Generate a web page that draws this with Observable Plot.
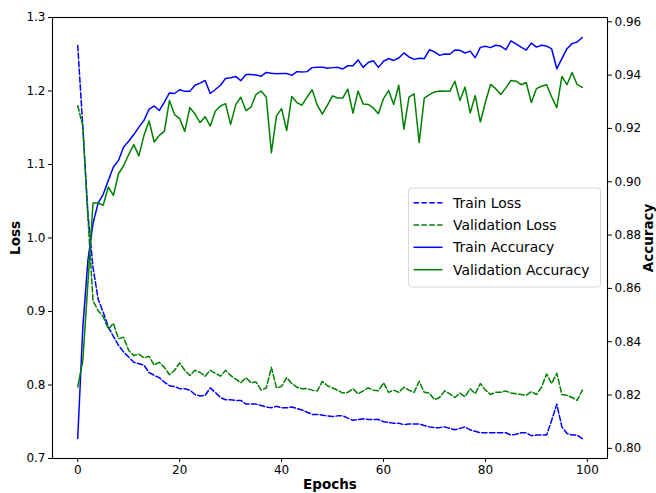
<!DOCTYPE html>
<html><head><meta charset="utf-8">
<script src="https://cdn.jsdelivr.net/npm/d3@7"></script>
<script src="https://cdn.jsdelivr.net/npm/@observablehq/plot@0.6"></script>
<style>
body{margin:0;background:#fff;}
#chart svg{font-family:"DejaVu Sans",sans-serif;}
</style>
</head><body><div id="chart"></div>
<script>
// ---- data ----
const trainLoss = [1.262,1.151,1.033,0.960,0.917,0.899,0.879,0.866,0.854,0.845,
0.838,0.831,0.829,0.827,0.817,0.813,0.810,0.804,0.799,0.798,
0.795,0.795,0.793,0.787,0.785,0.786,0.796,0.790,0.783,0.780,
0.780,0.779,0.779,0.774,0.774,0.774,0.772,0.770,0.769,0.771,
0.769,0.769,0.770,0.768,0.766,0.763,0.760,0.760,0.759,0.758,
0.757,0.758,0.758,0.755,0.752,0.753,0.754,0.753,0.753,0.753,
0.750,0.749,0.748,0.748,0.746,0.747,0.747,0.747,0.745,0.743,
0.742,0.742,0.743,0.741,0.739,0.741,0.743,0.739,0.737,0.735,
0.735,0.735,0.735,0.735,0.735,0.732,0.733,0.735,0.735,0.731,
0.732,0.732,0.732,0.752,0.774,0.743,0.734,0.732,0.732,0.727];
const valLoss = [1.180,1.152,1.028,0.915,0.901,0.893,0.876,0.884,0.863,0.865,
0.847,0.840,0.842,0.837,0.839,0.827,0.831,0.824,0.814,0.820,
0.830,0.820,0.813,0.820,0.817,0.812,0.820,0.816,0.812,0.820,
0.813,0.808,0.803,0.810,0.803,0.804,0.793,0.796,0.824,0.796,
0.798,0.810,0.802,0.797,0.795,0.795,0.793,0.792,0.805,0.799,
0.796,0.793,0.789,0.790,0.795,0.788,0.792,0.796,0.793,0.792,
0.803,0.790,0.793,0.790,0.797,0.793,0.790,0.805,0.790,0.789,
0.780,0.783,0.792,0.788,0.783,0.789,0.784,0.795,0.788,0.802,
0.793,0.787,0.790,0.790,0.792,0.789,0.788,0.787,0.786,0.791,
0.787,0.797,0.815,0.802,0.816,0.787,0.786,0.783,0.779,0.793];
const trainAcc = [0.8037,0.8454,0.8705,0.8844,0.8920,0.8953,0.9005,0.9055,0.9080,0.9130,
0.9152,0.9177,0.9205,0.9230,0.9272,0.9284,0.9267,0.9299,0.9333,0.9331,
0.9345,0.9339,0.9339,0.9362,0.9370,0.9380,0.9331,0.9346,0.9362,0.9387,
0.9390,0.9395,0.9379,0.9402,0.9402,0.9400,0.9396,0.9410,0.9407,0.9405,
0.9406,0.9406,0.9399,0.9413,0.9412,0.9413,0.9428,0.9429,0.9429,0.9426,
0.9428,0.9429,0.9423,0.9435,0.9435,0.9457,0.9429,0.9447,0.9454,0.9429,
0.9452,0.9462,0.9455,0.9464,0.9483,0.9468,0.9459,0.9463,0.9462,0.9495,
0.9487,0.9474,0.9479,0.9478,0.9494,0.9493,0.9483,0.9490,0.9465,0.9504,
0.9508,0.9503,0.9512,0.9509,0.9495,0.9528,0.9517,0.9505,0.9494,0.9520,
0.9505,0.9512,0.9509,0.9498,0.9424,0.9462,0.9499,0.9518,0.9524,0.9541];
const valAcc = [0.8230,0.8330,0.8620,0.8920,0.8920,0.8912,0.8980,0.8949,0.9030,0.9060,
0.9102,0.9139,0.9097,0.9174,0.9228,0.9149,0.9174,0.9189,0.9305,0.9252,
0.9237,0.9189,0.9278,0.9255,0.9222,0.9244,0.9209,0.9264,0.9284,0.9293,
0.9215,0.9289,0.9317,0.9267,0.9280,0.9328,0.9340,0.9317,0.9109,0.9247,
0.9274,0.9192,0.9320,0.9297,0.9287,0.9317,0.9345,0.9287,0.9254,0.9287,
0.9322,0.9314,0.9314,0.9347,0.9257,0.9340,0.9292,0.9290,0.9277,0.9255,
0.9312,0.9342,0.9290,0.9362,0.9197,0.9317,0.9330,0.9147,0.9314,0.9327,
0.9337,0.9340,0.9339,0.9339,0.9377,0.9305,0.9355,0.9258,0.9323,0.9224,
0.9299,0.9365,0.9349,0.9327,0.9352,0.9380,0.9377,0.9364,0.9372,0.9297,
0.9349,0.9358,0.9364,0.9318,0.9278,0.9395,0.9364,0.9410,0.9364,0.9354];
const epochTicks = [0,20,40,60,80,100];
const lossTicks = [0.7,0.8,0.9,1.0,1.1,1.2,1.3];
const accTicks = [0.80,0.82,0.84,0.86,0.88,0.90,0.92,0.94,0.96];
const seriesNames = ["Train Loss","Validation Loss","Train Accuracy","Validation Accuracy"];
const seriesColors = ["blue","green","blue","green"];

// ---- dual axis mapping: accuracy domain mapped onto loss domain ----
const lossDomain = [0.7, 1.3];
const accDomain = [0.7962, 0.9616];
const toLoss = d3.scaleLinear().domain(accDomain).range(lossDomain);

const rows = (arr, key, isAcc) => arr.map((v, i) => ({epoch: i, v: isAcc ? toLoss(v) : v, key}));
const dash = "5.5,2.4";
const fs = 12;

const chart = Plot.plot({
  width: 656, height: 493,
  marginLeft: 52, marginRight: 49, marginTop: 17, marginBottom: 35,
  style: {fontFamily: "DejaVu Sans, sans-serif", background: "white", color: "black"},
  x: {domain: [-4.95, 103.95]},
  y: {domain: lossDomain},
  marks: [
    Plot.line(rows(trainLoss, seriesNames[0], false), {x: "epoch", y: "v", stroke: seriesColors[0], strokeWidth: 1.5, strokeDasharray: dash}),
    Plot.line(rows(valLoss, seriesNames[1], false), {x: "epoch", y: "v", stroke: seriesColors[1], strokeWidth: 1.5, strokeDasharray: dash}),
    Plot.line(rows(trainAcc, seriesNames[2], true), {x: "epoch", y: "v", stroke: seriesColors[2], strokeWidth: 1.5}),
    Plot.line(rows(valAcc, seriesNames[3], true), {x: "epoch", y: "v", stroke: seriesColors[3], strokeWidth: 1.5}),
    Plot.frame({stroke: "black", strokeWidth: 1.1}),
    Plot.axisX(epochTicks, {tickSize: 4, tickPadding: 3, fontSize: fs, tickFormat: d => String(d), label: null}),
    Plot.axisY(lossTicks, {anchor: "left", tickSize: 4, tickPadding: 3, fontSize: fs, tickFormat: d => d.toFixed(1), label: null}),
    Plot.axisY(accTicks.map(toLoss), {anchor: "right", tickSize: 4, tickPadding: 3, fontSize: fs, tickFormat: d => toLoss.invert(d).toFixed(2), label: null}),
    Plot.text(["Loss"], {frameAnchor: "left", text: d => d, rotate: -90, dx: -37, fontSize: 13.5, fontWeight: "bold", textAnchor: "middle", lineAnchor: "middle"}),
    Plot.text(["Accuracy"], {frameAnchor: "right", text: d => d, rotate: -90, dx: 41, fontSize: 13.5, fontWeight: "bold", textAnchor: "middle", lineAnchor: "middle"}),
    Plot.text(["Epochs"], {frameAnchor: "bottom", text: d => d, dy: 26.5, fontSize: 13.5, fontWeight: "bold", textAnchor: "middle", lineAnchor: "middle"})
  ]
});
document.getElementById("chart").appendChild(chart);

// ---- legend inside plot area ----
const svg = d3.select(chart);
const lg = svg.append("g").attr("class", "legend").attr("text-anchor", "start");
lg.append("rect").attr("x", 408.5).attr("y", 188).attr("width", 192).attr("height", 99)
  .attr("rx", 3).attr("fill", "white").attr("fill-opacity", 0.8)
  .attr("stroke", "#d6d6d6").attr("stroke-width", 1);
const rowY = [202.7, 225, 247.3, 269.7];
seriesNames.forEach((name, i) => {
  lg.append("line").attr("x1", 413.5).attr("x2", 442.5).attr("y1", rowY[i]).attr("y2", rowY[i])
    .attr("stroke", seriesColors[i]).attr("stroke-width", 1.5)
    .attr("stroke-dasharray", i < 2 ? dash : null);
  lg.append("text").attr("x", 453).attr("y", rowY[i]).attr("dy", "0.35em")
    .attr("text-anchor", "start")
    .attr("font-size", 13.9).attr("font-family", "DejaVu Sans, sans-serif").attr("fill", "black").text(name);
});
</script>
</body></html>
